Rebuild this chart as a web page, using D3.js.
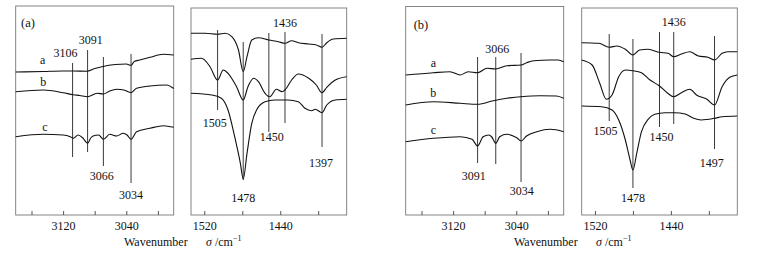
<!DOCTYPE html>
<html>
<head>
<meta charset="utf-8">
<script src="https://cdn.jsdelivr.net/npm/d3@7"></script>
<style>
  body { margin: 0; background: #fff; }
  svg { display: block; font-family: "Liberation Serif", "Times New Roman", serif; }
</style>
</head>
<body>
<div id="chart"></div>
<script>
// Tick values (every 40, labels every 80)
const ticksCH = [3160, 3120, 3080, 3040, 3000];
const ticksFP = [1520, 1480, 1440, 1400];

// (a) C-H region, curves a/b/c  [wavenumber, intensity]
const aHighA = [[3180,143],[3145,143.5],[3121,144],[3107,144],[3090,143.8],[3080,146.5],[3071,148.3],[3054,150.5],[3040,151],[3034,149.7],[3030,153.5],[3023,155],[3010,157.7],[2993,160.7],[2980,160]];
const aHighB = [[3180,123.3],[3145,125],[3120,122.3],[3107,120.3],[3099,119.5],[3089,118.3],[3077,121.7],[3069,121],[3061,124],[3052,125.7],[3043,125],[3034,122.3],[3027,126.7],[3010,129],[2989,130],[2980,126.5]];
const aHighC = [[3180,78.3],[3145,80.7],[3120,80],[3111,78.3],[3107,76.7],[3101,80],[3095,77],[3089,71.7],[3085,77],[3082,79],[3075,80],[3069,75.7],[3061,80.7],[3052,79],[3044,81.7],[3039,80],[3034,75.7],[3027,83.3],[3010,86.7],[2993,89.3],[2980,87.7]];

// (a) fingerprint region
const aLowA = [[1534,181.7],[1519,181.7],[1506,180.7],[1498,181.7],[1491,178.3],[1484,165],[1479,143.3],[1475,158.3],[1470,175],[1463,177.3],[1452,175],[1442,173.3],[1435,171.7],[1428,174.3],[1421,172.3],[1410,171],[1402,170],[1396,167.7],[1391,172.3],[1384,176],[1370,176.7]];
const aLowB = [[1534,155.7],[1523,156.7],[1514,148.3],[1506,135],[1500,145],[1495,141.7],[1486,128.3],[1479,115],[1474,128.3],[1468,136.7],[1463,133.3],[1456,121.7],[1451,118.3],[1444,125.7],[1438,123.3],[1435,125],[1428,135],[1421,141],[1410,136.7],[1402,130],[1396,122.3],[1391,127.7],[1382,135],[1370,138.3]];
const aLowC = [[1534,121.7],[1512,120],[1502,116.7],[1495,105],[1488,78.3],[1482,51.7],[1479,36],[1475,61.7],[1470,91.7],[1465,105],[1456,113.3],[1446,115],[1432,115],[1421,113.3],[1414,106.7],[1407,104.3],[1403,105.7],[1396,102.3],[1391,110],[1382,115],[1370,115.7]];

// (b) C-H region
const bHighA = [[3180,140],[3145,142.3],[3124,143.3],[3111,140],[3101,143.3],[3089,142.3],[3077,146.7],[3066,146],[3052,149.3],[3034,150],[3027,152.3],[3018,154.3],[2997,155],[2987,155],[2980,153.3]];
const bHighB = [[3180,110],[3145,113.3],[3111,111.7],[3089,110.7],[3069,114.3],[3052,116.7],[3034,118.3],[3010,119.3],[2989,119],[2980,116.7]];
const bHighC = [[3180,73.3],[3145,76.7],[3111,78.3],[3096,75.7],[3089,69],[3082,78.3],[3075,80],[3071,78],[3066,71.7],[3061,78.3],[3052,80.7],[3044,79],[3039,77],[3034,74],[3027,79],[3014,83.3],[2997,85.7],[2980,83.3]];

// (b) fingerprint region
const bLowA = [[1534,172.3],[1516,171.7],[1505,167.7],[1497,169],[1488,165.7],[1480,160],[1473,165],[1464,165.7],[1452,162.7],[1443,161.7],[1437,158.3],[1429,161],[1420,163.3],[1411,159],[1401,157.7],[1394,155],[1386,161.7],[1380,163.3],[1370,163.3]];
const bLowB = [[1534,155],[1523,150],[1515,131.7],[1508,115.7],[1502,120],[1495,138.3],[1488,145],[1480,144.3],[1471,142.3],[1462,135],[1452,129],[1444,122.3],[1437,118.3],[1429,122.3],[1420,125.7],[1413,120],[1402,115.7],[1394,110],[1386,128.3],[1378,137.7],[1370,140]];
const bLowC = [[1534,109],[1513,108.3],[1502,105],[1495,95],[1488,75],[1483,55],[1480,45],[1476,61.7],[1471,83.3],[1464,95.7],[1457,100.7],[1446,102.3],[1436,102.3],[1425,101],[1416,96.7],[1408,95],[1394,96.7],[1386,98.3],[1370,99]];

// Peak markers: line at wavenumber, from lo to hi intensity, label at (tx, ty)
const peaksAHigh = [
  { text: "3106", at: 3108, lo: 58, hi: 152, tx: 3117, ty: 162 },
  { text: "3091", at: 3089, lo: 63, hi: 165, tx: 3085, ty: 175 },
  { text: "3066", at: 3069, lo: 49, hi: 158, tx: 3071, ty: 39 },
  { text: "3034", at: 3034, lo: 32, hi: 161, tx: 3034, ty: 20 }
];
const peaksALow = [
  { text: "1505", at: 1506, lo: 105, hi: 185, tx: 1509, ty: 92 },
  { text: "1478", at: 1479, lo: 35, hi: 173, tx: 1479, ty: 17 },
  { text: "1450", at: 1452, lo: 83, hi: 182, tx: 1449, ty: 78 },
  { text: "1436", at: 1435, lo: 92, hi: 183, tx: 1435, ty: 192 },
  { text: "1397", at: 1396, lo: 68, hi: 181, tx: 1397, ty: 52 }
];
const peaksBHigh = [
  { text: "3091", at: 3089, lo: 52, hi: 158, tx: 3094, ty: 39 },
  { text: "3066", at: 3066, lo: 51, hi: 158, tx: 3064, ty: 166 },
  { text: "3034", at: 3034, lo: 33, hi: 162, tx: 3033, ty: 24 }
];
const peaksBLow = [
  { text: "1505", at: 1505, lo: 94, hi: 181, tx: 1509, ty: 84 },
  { text: "1478", at: 1480, lo: 27, hi: 176, tx: 1480, ty: 17 },
  { text: "1450", at: 1452, lo: 88, hi: 183, tx: 1450, ty: 78 },
  { text: "1436", at: 1437, lo: 91, hi: 183, tx: 1437, ty: 193 },
  { text: "1497", at: 1394, lo: 66, hi: 179, tx: 1397, ty: 52 }
];

// curve names a/b/c
const seriesNames = ["a", "b", "c"];
const nameSpotsA = [[3146, 155], [3145, 133], [3143, 88]];
const nameSpotsB = [[3145, 152], [3145, 122], [3145, 85]];

const W = 760, H = 253;
const bottom = 215;

const panels = [
  { left: 15.7, right: 173.7, top: 6, domain: [3180, 2980], ticks: ticksCH,
    curves: [aHighA, aHighB, aHighC], peaks: peaksAHigh, names: nameSpotsA, tag: "(a)", tagPos: [28, 23] },
  { left: 191, right: 346.7, top: 8, domain: [1534, 1370], ticks: ticksFP,
    curves: [aLowA, aLowB, aLowC], peaks: peaksALow },
  { left: 405.7, right: 563.7, top: 6.5, domain: [3180, 2980], ticks: ticksCH,
    curves: [bHighA, bHighB, bHighC], peaks: peaksBHigh, names: nameSpotsB, tag: "(b)", tagPos: [421, 25] },
  { left: 581.7, right: 737.3, top: 8, domain: [1534, 1370], ticks: ticksFP,
    curves: [bLowA, bLowB, bLowC], peaks: peaksBLow }
];

const svg = d3.select("#chart")
  .append("svg")
  .attr("width", W)
  .attr("height", H);

const y = d3.scaleLinear().domain([0, 209]).range([bottom, 6]);

panels.forEach(p => {
  const x = d3.scaleLinear().domain(p.domain).range([p.left, p.right]);
  const g = svg.append("g");

  // frame
  g.append("rect")
    .attr("x", p.left)
    .attr("y", p.top)
    .attr("width", p.right - p.left)
    .attr("height", bottom - p.top)
    .attr("fill", "none")
    .attr("stroke", "#777")
    .attr("stroke-width", 0.9);

  // inward ticks
  const axis = g.append("g")
    .attr("transform", `translate(0,${bottom})`)
    .call(d3.axisBottom(x)
      .tickValues(p.ticks)
      .tickSizeInner(-4)
      .tickSizeOuter(0)
      .tickPadding(6)
      .tickFormat(d => d % 80 === 0 ? d : ""));
  axis.select(".domain").remove();
  axis.selectAll(".tick line").attr("stroke", "#555");
  axis.selectAll(".tick text")
    .attr("font-size", "12px")
    .attr("font-family", "Liberation Serif, serif")
    .attr("fill", "#111");

  // peak markers
  p.peaks.forEach(pk => {
    g.append("line")
      .attr("x1", x(pk.at)).attr("x2", x(pk.at))
      .attr("y1", y(pk.lo)).attr("y2", y(pk.hi))
      .attr("stroke", "#3a3a3a")
      .attr("stroke-width", 1);
    g.append("text")
      .attr("x", x(pk.tx))
      .attr("y", y(pk.ty))
      .attr("dy", "0.35em")
      .attr("text-anchor", "middle")
      .attr("font-size", "12px")
      .attr("fill", "#111")
      .text(pk.text);
  });

  // spectra
  const line = d3.line()
    .x(d => x(d[0]))
    .y(d => y(d[1]))
    .curve(d3.curveMonotoneX);

  p.curves.forEach(c => {
    g.append("path")
      .datum(c)
      .attr("fill", "none")
      .attr("stroke", "#111")
      .attr("stroke-width", 1.1)
      .attr("d", line);
  });

  if (p.names) {
    p.names.forEach((n, i) => {
      g.append("text")
        .attr("x", x(n[0]))
        .attr("y", y(n[1]))
        .attr("dy", "0.35em")
        .attr("text-anchor", "middle")
        .attr("font-size", "12px")
        .attr("fill", "#111")
        .text(seriesNames[i]);
    });
  }

  if (p.tag) {
    g.append("text")
      .attr("x", p.tagPos[0])
      .attr("y", p.tagPos[1])
      .attr("dy", "0.35em")
      .attr("text-anchor", "middle")
      .attr("font-size", "12.5px")
      .attr("fill", "#111")
      .text(p.tag);
  }
});

// shared x-axis titles
[0, 390].forEach(off => {
  svg.append("text")
    .attr("x", 124 + off)
    .attr("y", 245.5)
    .attr("font-size", "12px")
    .attr("fill", "#111")
    .text("Wavenumber");
  const t = svg.append("text")
    .attr("x", 206 + off)
    .attr("y", 245.5)
    .attr("font-size", "12px")
    .attr("fill", "#111");
  t.append("tspan").attr("font-style", "italic").text("σ");
  t.append("tspan").text(" /cm");
  t.append("tspan").attr("font-size", "8px").attr("dy", "-5").text("−1");
});
</script>
</body>
</html>
